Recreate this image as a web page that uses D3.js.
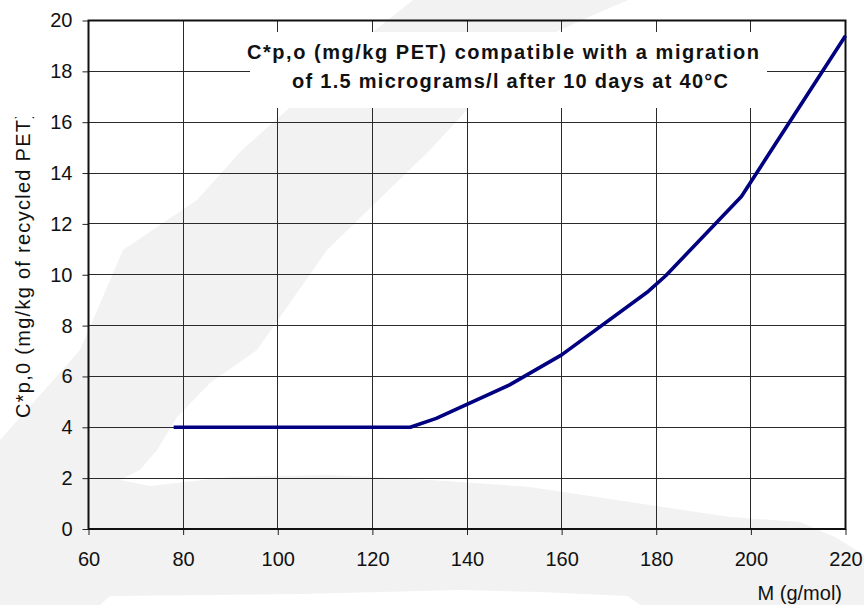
<!DOCTYPE html>
<html>
<head>
<meta charset="utf-8">
<script src="https://cdn.jsdelivr.net/npm/d3@7"></script>
<style>
  body { margin: 0; background: #fff; }
  svg { display: block; font-family: "Liberation Sans", Arial, sans-serif; }
</style>
</head>
<body>
<div id="chart"></div>
<script>
// Data
const molarMass = [78, 128, 133.5, 149, 160, 178, 182, 198, 220];
const concentration = [4, 4, 4.35, 5.67, 6.85, 9.3, 9.96, 13.08, 19.4];

const xTicks = [60, 80, 100, 120, 140, 160, 180, 200, 220];
const yTicks = [0, 2, 4, 6, 8, 10, 12, 14, 16, 18, 20];

const titleLines = [
    "C*p,o (mg/kg PET) compatible with a migration",
    "of 1.5 micrograms/l after 10 days at 40°C"
];
const yLabel = "C*p,0 (mg/kg of recycled PET)";
const xLabel = "M (g/mol)";

// Faint background watermark (decoration only)
const watermark = [
    [[0, 440], [80, 350], [123, 250], [197, 200], [242, 150], [287, 110], [340, 50], [378, 28], [413, 0],
     [628, 0], [600, 12], [556, 32], [470, 40], [467, 110], [430, 150], [327, 250], [257, 350],
     [210, 383], [177, 417], [157, 450], [140, 470], [120, 480], [150, 486], [230, 477], [330, 475],
     [430, 480], [530, 487], [630, 502], [730, 517], [800, 522], [835, 537], [864, 555], [864, 605],
     [640, 605], [628, 596], [540, 592], [460, 590], [300, 594], [110, 596], [100, 605], [0, 605]]
];

const width = 864;
const height = 605;

const svg = d3.select("#chart")
    .append("svg")
    .attr("width", width)
    .attr("height", height)
    .attr("viewBox", [0, 0, width, height]);

svg.append("rect").attr("width", width).attr("height", height).attr("fill", "#fff");

svg.append("g")
    .selectAll("path")
    .data(watermark)
    .join("path")
    .attr("d", d => d3.line()(d) + "Z")
    .attr("fill", "#f2f2f2");

const x = d3.scaleLinear().domain([60, 220]).range([88.5, 845.5]);
const y = d3.scaleLinear().domain([0, 20]).range([529, 20.5]);

// Gridlines
const grid = svg.append("g").attr("stroke", "#2a2a2a").attr("stroke-width", 1).attr("shape-rendering", "crispEdges");
grid.selectAll(".h")
    .data(yTicks.filter(d => d > 0 && d < 20))
    .join("line")
    .attr("x1", x(60)).attr("x2", x(220))
    .attr("y1", d => y(d)).attr("y2", d => y(d));
grid.selectAll(".v")
    .data(xTicks.filter(d => d > 60 && d < 220))
    .join("line")
    .attr("x1", d => x(d)).attr("x2", d => x(d))
    .attr("y1", y(20)).attr("y2", y(0));

// Title box
svg.append("rect")
    .attr("x", 250).attr("y", 32)
    .attr("width", 517).attr("height", 76)
    .attr("fill", "#fff");

svg.append("g")
    .selectAll("text")
    .data(titleLines)
    .join("text")
    .attr("x", (d, i) => i === 0 ? 247 : 292)
    .attr("y", (d, i) => 59 + i * 29)
    .attr("textLength", (d, i) => i === 0 ? 512 : 436)
    .attr("lengthAdjust", "spacing")
    .style("font-size", "20px")
    .style("font-weight", "bold")
    .attr("fill", "#111")
    .text(d => d);

// Axes
const xAxis = svg.append("g")
    .attr("transform", `translate(0,${y(0)})`)
    .call(d3.axisBottom(x).tickValues(xTicks).tickSize(6).tickPadding(17).tickFormat(d3.format("d")));
const yAxis = svg.append("g")
    .attr("transform", `translate(${x(60)},0)`)
    .call(d3.axisLeft(y).tickValues(yTicks).tickSize(6).tickPadding(10).tickFormat(d3.format("d")));

[xAxis, yAxis].forEach(a => {
    a.select(".domain").remove();
    a.selectAll("line").attr("stroke", "#222");
    a.selectAll("text")
        .style("font-size", "20px")
        .style("font-family", "'Liberation Sans', Arial, sans-serif")
        .attr("fill", "#111");
});

// Plot frame
svg.append("rect")
    .attr("x", x(60)).attr("y", y(20))
    .attr("width", x(220) - x(60)).attr("height", y(0) - y(20))
    .attr("fill", "none")
    .attr("stroke", "#111")
    .attr("stroke-width", 2);

// Curve
const points = molarMass.map((m, i) => [m, concentration[i]]);
svg.append("path")
    .datum(points)
    .attr("fill", "none")
    .attr("stroke", "#000080")
    .attr("stroke-width", 3.6)
    .attr("stroke-linejoin", "round")
    .attr("d", d3.line().x(d => x(d[0])).y(d => y(d[1])));

// Axis titles
svg.append("clipPath").attr("id", "ylab-clip")
    .append("rect").attr("x", 0).attr("y", 117).attr("width", 60).attr("height", 420);

svg.append("g")
    .attr("clip-path", "url(#ylab-clip)")
    .append("text")
    .attr("transform", "translate(30,418) rotate(-90)")
    .attr("textLength", 306)
    .attr("lengthAdjust", "spacing")
    .style("font-size", "20px")
    .attr("fill", "#111")
    .text(yLabel);

svg.append("text")
    .attr("x", 842)
    .attr("y", 600)
    .attr("text-anchor", "end")
    .style("font-size", "20px")
    .attr("fill", "#111")
    .text(xLabel);
</script>
</body>
</html>
